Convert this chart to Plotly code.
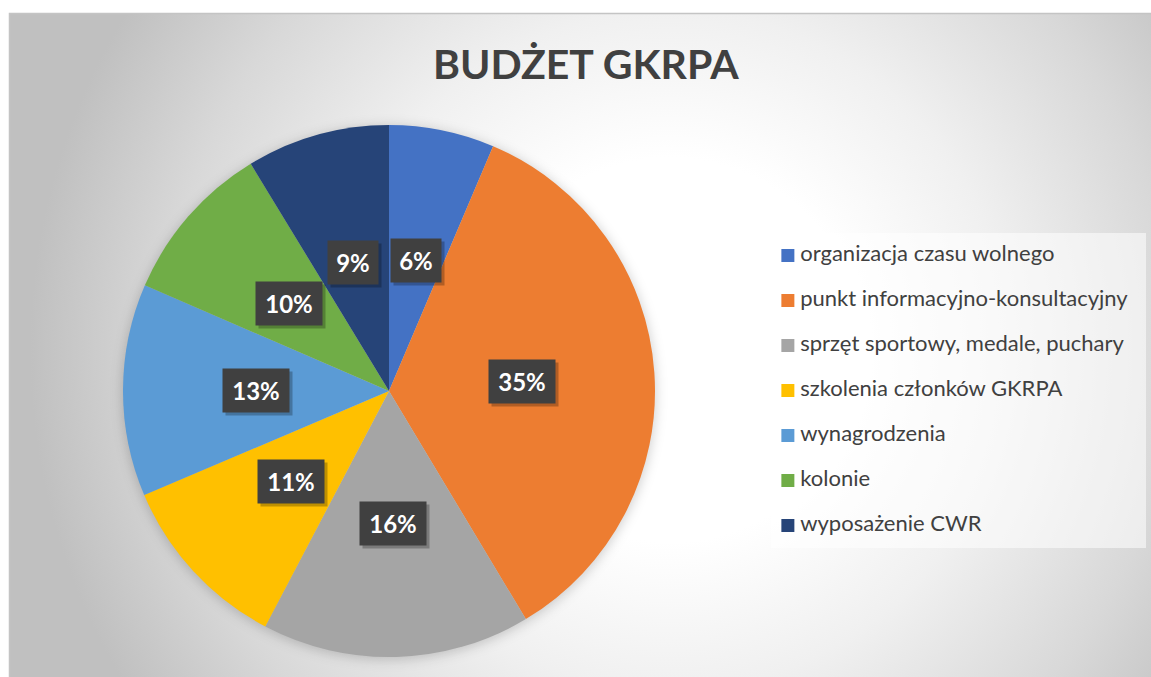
import base64
import math
import plotly.graph_objects as go

W, H = 1151, 677

title = "BUDŻET GKRPA"
labels = [
    "organizacja czasu wolnego",
    "punkt informacyjno-konsultacyjny",
    "sprzęt sportowy, medale, puchary",
    "szkolenia członków GKRPA",
    "wynagrodzenia",
    "kolonie",
    "wyposażenie CWR",
]
values = [6.4, 35.0, 16.3, 10.9, 12.9, 9.8, 8.7]
colors = ["#4472C4", "#ED7D31", "#A5A5A5", "#FFC000", "#5B9BD5", "#70AD47", "#264478"]

FONT = "Lato"
TEXT = "#404040"

# pie geometry in pixels
cx, cy, R = 389, 391, 266
dom_x = [(cx - R) / W, (cx + R) / W]
dom_y = [(H - cy - R) / H, (H - cy + R) / H]

# background: radial gradient panel + soft pie shadow
svg = f"""<svg xmlns="http://www.w3.org/2000/svg" width="{W}" height="{H}" viewBox="0 0 {W} {H}">
<defs>
<radialGradient id="g" gradientUnits="userSpaceOnUse" cx="670" cy="350" r="640">
<stop offset="0" stop-color="#ffffff"/>
<stop offset="0.3" stop-color="#ffffff"/>
<stop offset="0.53" stop-color="#f0f0f0"/>
<stop offset="0.79" stop-color="#d8d8d8"/>
<stop offset="1" stop-color="#c0c0c0"/>
</radialGradient>
<filter id="b" x="-20%" y="-20%" width="140%" height="140%"><feGaussianBlur stdDeviation="6"/></filter>
<filter id="s" x="-30%" y="-30%" width="160%" height="160%"><feGaussianBlur stdDeviation="2"/></filter>
</defs>
<rect x="9.5" y="13.5" width="1150" height="670" fill="url(#g)" stroke="#c4c4c4" stroke-width="1.5"/>
<circle cx="{cx}" cy="{cy + 2}" r="{R + 1}" fill="#000" fill-opacity="0.18" filter="url(#b)"/>
</svg>"""
bg_src = "data:image/svg+xml;base64," + base64.b64encode(svg.encode("utf-8")).decode()

fig = go.Figure()

fig.add_trace(go.Pie(
    labels=labels,
    values=values,
    sort=False,
    direction="clockwise",
    rotation=0,
    marker=dict(colors=colors, line=dict(width=0)),
    textinfo="none",
    hovertemplate="%{label}: %{percent:.0%}<extra></extra>",
    domain=dict(x=dom_x, y=dom_y),
    showlegend=False,
))

# legend built as a marker column + text column in its own box
lx0, lx1, ly0, ly1 = 771, 1146, 233, 548
rows = list(range(len(labels)))
fig.add_trace(go.Scatter(
    x=[0.045] * len(labels), y=rows, mode="markers",
    marker=dict(symbol="square", size=13, color=colors),
    hoverinfo="skip", showlegend=False,
))
fig.add_trace(go.Scatter(
    x=[0.078] * len(labels), y=rows, mode="text",
    text=labels, textposition="middle right",
    textfont=dict(family=FONT, size=22, color=TEXT),
    hoverinfo="skip", cliponaxis=False, showlegend=False,
))

# percent labels in dark boxes at half radius of each slice
total = sum(values)
annotations = []
cum = 0
for v in values:
    mid = (cum + v / 2) / total
    cum += v
    ang = 2 * math.pi * mid
    px_ = cx + 0.5 * R * math.sin(ang)
    py_ = cy - 0.5 * R * math.cos(ang)
    txt = f"{round(v / total * 100)}%"
    bw = 16 * len(txt) + 16
    pos = dict(x=px_ / W, y=(H - py_) / H, xref="paper", yref="paper",
               xanchor="center", yanchor="middle", showarrow=False,
               width=bw, height=41)
    # drop shadow box
    annotations.append(dict(pos, text=" ", xshift=3, yshift=-3,
                            bgcolor="rgba(0,0,0,0.25)", font=dict(size=24)))
    annotations.append(dict(pos, text=f"<b>{txt}</b>", bgcolor="#404040",
                            font=dict(family=FONT, size=24, color="white")))

annotations.append(dict(
    x=586 / W, y=1 - 64 / H, xref="paper", yref="paper",
    xanchor="center", yanchor="middle",
    text=f"<b>{title}</b>", showarrow=False,
    font=dict(family=FONT, size=41, color=TEXT),
))

fig.update_layout(
    width=W, height=H,
    margin=dict(l=0, r=0, t=0, b=0),
    paper_bgcolor="white",
    plot_bgcolor="rgba(0,0,0,0)",
    xaxis=dict(domain=[lx0 / W, lx1 / W], range=[0, 1], visible=False, fixedrange=True),
    yaxis=dict(domain=[(H - ly1) / H, (H - ly0) / H], range=[len(labels) - 0.5, -0.5],
               visible=False, fixedrange=True),
    images=[dict(source=bg_src, xref="paper", yref="paper", x=0, y=1, sizex=1, sizey=1,
                 xanchor="left", yanchor="top", sizing="stretch", layer="below")],
    shapes=[dict(type="rect", xref="paper", yref="paper",
                 x0=lx0 / W, x1=lx1 / W, y0=(H - ly1) / H, y1=(H - ly0) / H,
                 fillcolor="rgba(255,255,255,0.55)", line=dict(width=0), layer="below")],
    annotations=annotations,
    font=dict(family=FONT, color=TEXT),
)

fig.write_html("out.html", config={"displayModeBar": False},
               post_script="document.body.style.margin='0';")
